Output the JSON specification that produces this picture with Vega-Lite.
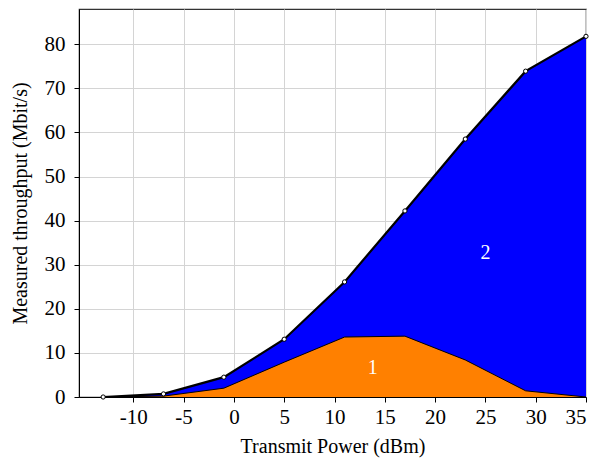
{
  "$schema": "https://vega.github.io/schema/vega-lite/v6.json",
  "autosize": "none",
  "width": 507,
  "height": 388,
  "padding": {"left": 79, "top": 9, "right": 10, "bottom": 67},
  "background": "white",
  "config": {
    "view": {"stroke": "#333333", "strokeWidth": 1.2}
  },
  "layer": [
    {
      "data": {
        "values": [
          {"p": -13, "s1": 0, "total": 0},
          {"p": -7, "s1": 0.2, "total": 0.7},
          {"p": -1, "s1": 2.0, "total": 4.5},
          {"p": 5, "s1": 7.9, "total": 13.1},
          {"p": 11, "s1": 13.6, "total": 26.1},
          {"p": 17, "s1": 13.8, "total": 42.2},
          {"p": 23, "s1": 8.4, "total": 58.5},
          {"p": 29, "s1": 1.4, "total": 73.9},
          {"p": 35, "s1": 0, "total": 81.8}
        ]
      },
      "layer": [
        {
          "mark": {"type": "area", "color": "#0000ff", "opacity": 1},
          "encoding": {
            "x": {
              "field": "p",
              "type": "quantitative",
              "scale": {"domain": [-15.4, 35], "nice": false, "zero": false},
              "axis": {
                "title": "Transmit Power (dBm)",
                "values": [-10, -5, 0, 5, 10, 15, 20, 25, 30, 35],
                "labelExpr": "toString(datum.value)",
                "labelFont": "Liberation Serif",
                "labelFontSize": 21,
                "labelColor": "black",
                "titleFont": "Liberation Serif",
                "titleFontSize": 20,
                "titleFontWeight": "normal",
                "titleColor": "black",
                "domainColor": "black",
                "tickColor": "black",
                "tickSize": 5,
                "gridColor": "#d4d4d4",
                "labelPadding": 4,
                "titlePadding": 9
              }
            },
            "y": {
              "field": "total",
              "type": "quantitative",
              "scale": {"domain": [0, 88], "nice": false},
              "axis": {
                "title": "Measured throughput (Mbit/s)",
                "values": [0, 10, 20, 30, 40, 50, 60, 70, 80],
                "labelFont": "Liberation Serif",
                "labelFontSize": 21,
                "labelColor": "black",
                "titleFont": "Liberation Serif",
                "titleFontSize": 20,
                "titleFontWeight": "normal",
                "titleColor": "black",
                "domainColor": "black",
                "tickColor": "black",
                "tickSize": 5,
                "gridColor": "#d4d4d4",
                "labelPadding": 9,
                "titlePadding": 14
              }
            }
          }
        },
        {
          "mark": {"type": "area", "color": "#ff8000", "opacity": 1},
          "encoding": {
            "x": {"field": "p", "type": "quantitative"},
            "y": {"field": "s1", "type": "quantitative"}
          }
        },
        {
          "mark": {"type": "line", "color": "black", "strokeWidth": 1},
          "encoding": {
            "x": {"field": "p", "type": "quantitative"},
            "y": {"field": "s1", "type": "quantitative"}
          }
        },
        {
          "mark": {"type": "line", "color": "black", "strokeWidth": 2.2},
          "encoding": {
            "x": {"field": "p", "type": "quantitative"},
            "y": {"field": "total", "type": "quantitative"}
          }
        },
        {
          "mark": {"type": "point", "filled": true, "fill": "white", "stroke": "black", "strokeWidth": 1, "size": 18, "opacity": 1},
          "encoding": {
            "x": {"field": "p", "type": "quantitative"},
            "y": {"field": "total", "type": "quantitative"}
          }
        }
      ]
    },
    {
      "data": {"values": [{"p": 13.8, "total": 6.6, "label": "1"}, {"p": 25, "total": 32.6, "label": "2"}]},
      "mark": {"type": "text", "color": "white", "font": "Liberation Serif", "fontSize": 20, "align": "center", "baseline": "middle"},
      "encoding": {
        "x": {"field": "p", "type": "quantitative"},
        "y": {"field": "total", "type": "quantitative"},
        "text": {"field": "label"}
      }
    }
  ]
}
